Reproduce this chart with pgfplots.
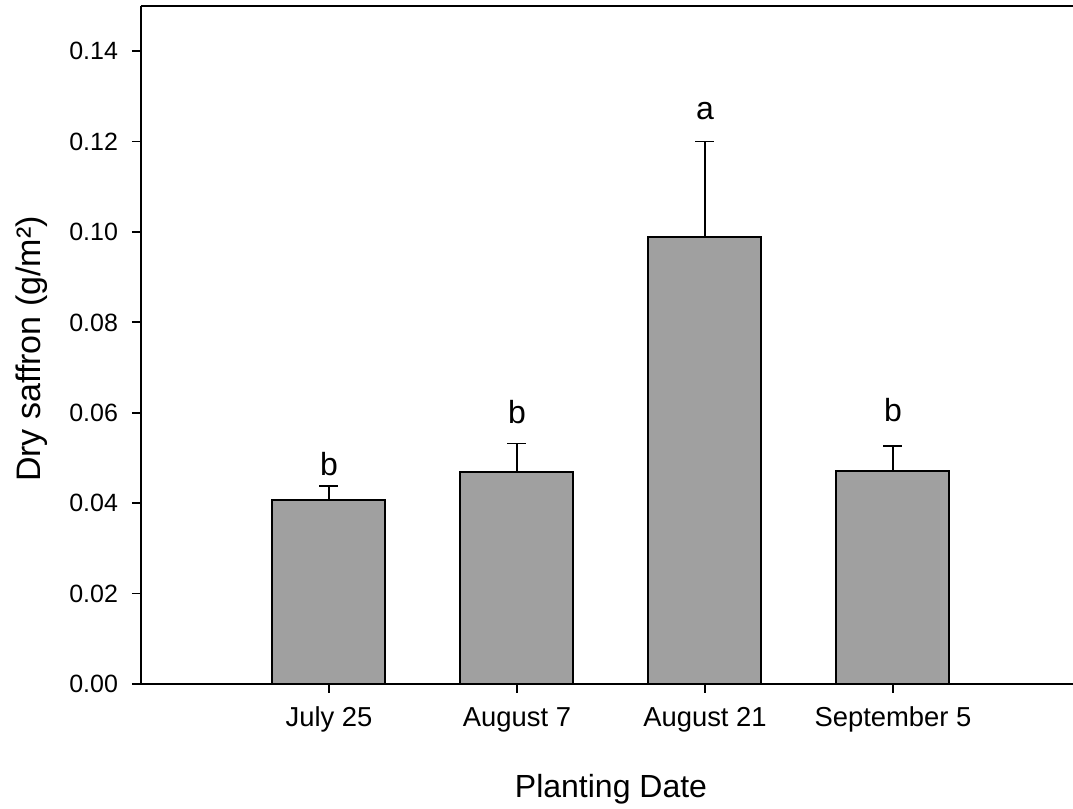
\documentclass[border=0pt]{standalone}
\usepackage{fontspec}
\setmainfont{Liberation Sans}
\usepackage{pgfplots}
\pgfplotsset{compat=1.18}
\usetikzlibrary{calc}
\definecolor{bargray}{HTML}{A0A0A0}
\begin{document}
\begin{tikzpicture}
\begin{axis}[
  scale only axis, width=470pt, height=339pt,
  xmin=0, xmax=5, ymin=0, ymax=0.15,
  axis x line=box, axis y line=left,
  axis line style={-, line width=0.9pt, black},
  xtick={1,2,3,4},
  xticklabels={July 25, August 7, August 21, September 5},
  xtick pos=bottom,
  ytick={0,0.02,0.04,0.06,0.08,0.10,0.12,0.14},
  ytick pos=left,
  tick align=outside, major tick length=4.5pt,
  tick style={line width=0.9pt, black},
  /pgf/number format/fixed, /pgf/number format/fixed zerofill,
  /pgf/number format/precision=2, /pgf/number format/assume math mode=true,
  yticklabel style={font=\fontsize{12.5}{15}\selectfont, xshift=-3.5pt},
  xticklabel style={font=\fontsize{13.7}{16}\selectfont, anchor=north,
    text height=10pt, text depth=3pt, inner sep=0pt, yshift=-6.5pt},
  xlabel={Planting Date}, ylabel={Dry saffron (g/m²)},
  xlabel style={font=\fontsize{16}{19}\selectfont, at={(axis description cs:0.5,-0.1667)}, anchor=base},
  ylabel style={font=\fontsize{17}{20}\selectfont, at={(axis description cs:-0.1064,0.494)}, anchor=base, rotate=0},
  clip=false,
]
\addplot[ybar, bar width=56.5pt, fill=bargray, draw=black, line width=1pt,
  error bars/.cd, y dir=plus, y explicit,
  error bar style={line width=0.65pt, black},
  error mark=-,
  error mark options={rotate=90, line width=0.65pt, mark size=4.75pt, black}]
  table[x=x, y=y, y error=e] {
x y e
1 0.04067 0.00311
2 0.04682 0.00645
3 0.09882 0.02125
4 0.04711 0.00556
};
\node[anchor=base, font=\fontsize{16}{19}\selectfont] at (axis cs:1,0.04622) {b};
\node[anchor=base, font=\fontsize{16}{19}\selectfont] at (axis cs:2,0.05756) {b};
\node[anchor=base, font=\fontsize{16}{19}\selectfont] at (axis cs:3,0.12489) {a};
\node[anchor=base, font=\fontsize{16}{19}\selectfont] at (axis cs:4,0.05800) {b};
\coordinate (BL) at (rel axis cs:0,0);
\end{axis}
\pgfresetboundingbox
\path[use as bounding box] ($(BL)+(-70.5pt,-62.5pt)$) rectangle ($(BL)+(466pt,342pt)$);
\end{tikzpicture}
\end{document}
